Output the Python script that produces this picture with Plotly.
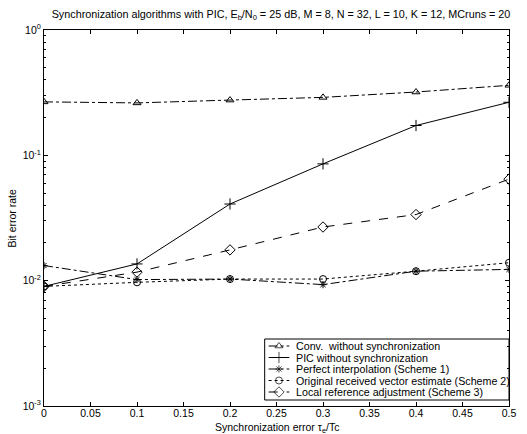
import plotly.graph_objects as go

tau = [0, 0.1, 0.2, 0.3, 0.4, 0.5]
conv = [0.267, 0.262, 0.276, 0.290, 0.320, 0.362]
pic = [0.0090, 0.0136, 0.0409, 0.0855, 0.173, 0.265]
perfect = [0.0132, 0.0102, 0.0103, 0.0093, 0.0119, 0.0123]
original = [0.0090, 0.0097, 0.0103, 0.0103, 0.0119, 0.0139]
localref = [0.0090, 0.0117, 0.0176, 0.0268, 0.0337, 0.0646]

names = ["Conv.  without synchronization", "PIC without synchronization",
         "Perfect interpolation (Scheme 1)", "Original received vector estimate (Scheme 2)",
         "Local reference adjustment (Scheme 3)"]
series = [conv, pic, perfect, original, localref]
dashes = ["dashdot", "solid", "dashdot", "dot", "dash"]
symbols = ["triangle-up-open", "cross-thin-open", "asterisk-open", "circle-open", "diamond-open"]
sizes = [7, 8, 6, 7, 8]

xticks = [0, 0.05, 0.1, 0.15, 0.2, 0.25, 0.3, 0.35, 0.4, 0.45, 0.5]
xticktext = ["0", "0.05", "0.1", "0.15", "0.2", "0.25", "0.3", "0.35", "0.4", "0.45", "0.5"]
yticks = [1e-3, 1e-2, 1e-1, 1]
yticktext = ["10<sup>-3</sup>", "10<sup>-2</sup>", "10<sup>-1</sup>", "10<sup>0</sup>"]
yminor = [m * 10 ** e for e in (-3, -2, -1) for m in range(2, 10)]

# layout geometry (window pixels; page body margin is removed below)
W, H = 527, 434
PLOT_L, PLOT_R, PLOT_T, PLOT_B = 44, 516, 30, 406
L, R, T, B = PLOT_L, W - PLOT_R, PLOT_T, H - PLOT_B
PW, PH = PLOT_R - PLOT_L, PLOT_B - PLOT_T


def px(x):
    return (x - PLOT_L) / PW


def py(y):
    return (PLOT_B - y) / PH


fig = go.Figure()
for n, s, d, sym, sz in zip(names, series, dashes, symbols, sizes):
    fig.add_trace(go.Scatter(
        x=tau, y=s, name=n, mode="lines+markers", showlegend=False,
        line=dict(color="black", width=1, dash=d),
        marker=dict(symbol=sym, size=sz, color="black", line=dict(width=1, color="black")),
    ))

# custom compact legend (MATLAB style)
leg_rows = [346, 357.5, 369, 380.5, 392]
lx0, lx1, ltext = 272, 293, 298
for n, d, sym, sz, ry in zip(names, dashes, symbols, sizes, leg_rows):
    fig.add_trace(go.Scatter(
        x=[px(lx0), px((lx0 + lx1) / 2), px(lx1)], y=[py(ry)] * 3,
        xaxis="x2", yaxis="y2", mode="lines+markers", showlegend=False, hoverinfo="skip",
        line=dict(color="black", width=1, dash=d),
        marker=dict(symbol=sym, size=[0, sz, 0], color="black", line=dict(width=1, color="black")),
    ))
    fig.add_annotation(text=n, xref="paper", yref="paper", x=px(ltext), y=py(ry),
                       xanchor="left", yanchor="middle", showarrow=False,
                       font=dict(size=10.7))

fig.add_shape(type="rect", xref="paper", yref="paper", layer="below",
              x0=px(268), x1=1, y0=py(400), y1=py(339),
              fillcolor="white", line=dict(color="black", width=1))

font = "Liberation Sans, Arial, sans-serif"
fig.update_layout(
    width=W, height=H,
    margin=dict(l=L, r=R, t=T, b=B),
    paper_bgcolor="white", plot_bgcolor="white",
    font=dict(family=font, size=10.5, color="black"),
    title=dict(text="Synchronization algorithms with PIC, E<sub>b</sub>/N<sub>0</sub> = 25 dB, M = 8, N = 32, L = 10, K = 12, MCruns = 20",
               x=(L + PW / 2 + 1) / W, xanchor="center", y=1 - 10 / H, yanchor="top", font=dict(size=10.8)),
    showlegend=False,
    hovermode=False,
    xaxis2=dict(overlaying="x", range=[0, 1], visible=False, fixedrange=True),
    yaxis2=dict(overlaying="y", range=[0, 1], visible=False, fixedrange=True),
)
fig.add_annotation(text="Synchronization error τ<sub>e</sub>/Tc", xref="paper", yref="paper",
                   x=0.5, y=0, xanchor="center", yanchor="top", yshift=-13,
                   showarrow=False, font=dict(size=10.5))
fig.add_annotation(text="Bit error rate", xref="paper", yref="paper",
                   x=px(12), y=0.5, xanchor="center", yanchor="middle", textangle=-90,
                   showarrow=False, font=dict(size=10.5))
fig.update_layout(xaxis=dict(
    range=[0, 0.5], tickvals=xticks, ticktext=xticktext,
    showgrid=False, zeroline=False, showline=True, linecolor="black", linewidth=1,
    mirror="allticks", ticks="inside", ticklen=4, tickcolor="black",
    ticklabeloverflow="allow", ticklabelstandoff=-3,
), yaxis=dict(
    type="log", range=[-3, 0], tickvals=yticks, ticktext=yticktext,
    showgrid=False, zeroline=False, showline=True, linecolor="black", linewidth=1,
    mirror="allticks", ticks="inside", ticklen=4, tickcolor="black",
    minor=dict(tickvals=yminor, ticks="inside", ticklen=2, tickcolor="black", showgrid=False),
))
fig.write_html("out.html", config={"displayModeBar": False, "staticPlot": True},
               post_script="document.body.style.margin='0';")
